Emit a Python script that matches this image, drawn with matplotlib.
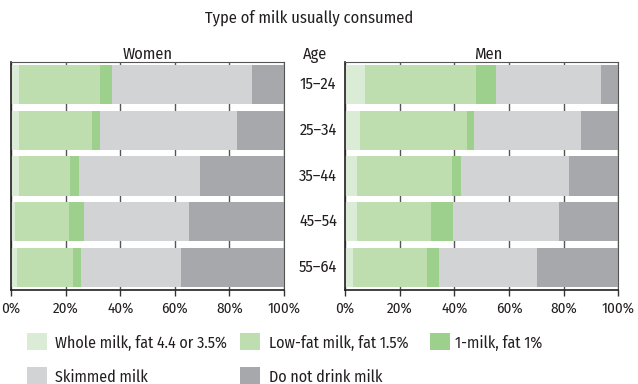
import matplotlib
matplotlib.use("Agg")
import matplotlib.pyplot as plt
from matplotlib import font_manager
from matplotlib.patches import Rectangle
from matplotlib.transforms import blended_transform_factory
import numpy as np

# ---------------- data ----------------
ages = ["15–24", "25–34", "35–44", "45–54", "55–64"]
categories = ["Whole milk, fat 4.4 or 3.5%", "Low-fat milk, fat 1.5%", "1-milk, fat 1%",
              "Skimmed milk", "Do not drink milk"]
women_whole = [2.9, 2.9, 2.9, 1.5, 2.2]
women_lowfat = [29.7, 26.8, 18.7, 19.8, 20.5]
women_onemilk = [4.4, 2.9, 3.3, 5.5, 3.0]
women_skimmed = [51.4, 50.3, 44.4, 38.5, 36.6]
women_none = [11.6, 17.1, 30.7, 34.7, 37.7]

men_whole = [7.3, 5.5, 4.4, 4.4, 2.9]
men_lowfat = [40.6, 39.1, 34.7, 27.1, 27.1]
men_onemilk = [7.3, 2.6, 3.3, 8.0, 4.4]
men_skimmed = [38.5, 39.1, 39.6, 38.8, 35.8]
men_none = [6.3, 13.7, 18.0, 21.7, 29.8]

xticks = [0, 20, 40, 60, 80, 100]
xticklabels = ["0%", "20%", "40%", "60%", "80%", "100%"]
colors = ["#daecd6", "#bedeb0", "#9cd08c", "#d2d3d5", "#a7a8ab"]

# ---------------- fonts ----------------
names = {f.name for f in font_manager.fontManager.ttflist}
FAM = "Open Sans"
for cand in ["Fira Sans Condensed", "Encode Sans Semi Condensed", "Open Sans"]:
    if cand in names:
        FAM = cand
        break
plt.rcParams["font.family"] = [FAM, "DejaVu Sans"]
TXT = "#231f20"

fig = plt.figure(figsize=(6.38, 3.84), dpi=100)
renderer = fig.canvas.get_renderer()

def fit_size(s, target_px):
    t = fig.text(0, 0, s, fontsize=10)
    w = t.get_window_extent(renderer).width
    t.remove()
    return 10 * target_px / w

FS_LEG = fit_size("Whole milk, fat 4.4 or 3.5%", 172)
FS_TITLE = fit_size("Type of milk usually consumed", 208)
FS_TICK = fit_size("100%", 33)
FS_AGE = fit_size("15–24", 37)
FS_HEAD = fit_size("Women", 50)

ax_w = fig.add_axes([11/638, 1-290/384, 273/638, 228/384])
ax_m = fig.add_axes([345/638, 1-290/384, 273.3/638, 228/384])

def draw(ax, series, title, tx):
    y = np.arange(len(ages))
    left = np.zeros(len(ages))
    for vals, c in zip(series, colors):
        ax.barh(y, vals, left=left, height=0.86, color=c, edgecolor="none", zorder=2)
        left += np.array(vals)
    ax.set_xlim(0, 100)
    ax.set_ylim(len(ages) - 0.5, -0.5)
    ax.set_yticks([])
    ax.set_xticks(xticks)
    ax.set_xticklabels(xticklabels, fontsize=FS_TICK, color=TXT)
    ax.tick_params(axis="x", direction="out", length=4, width=1, color="#333333", pad=4)
    ax.grid(axis="x", color="#555555", linewidth=1, zorder=0)
    ax.set_axisbelow(True)
    for s in ["top", "right"]:
        ax.spines[s].set_color("#555555")
        ax.spines[s].set_linewidth(0.8)
    for s in ["left", "bottom"]:
        ax.spines[s].set_color("#231f20")
        ax.spines[s].set_linewidth(1.2)
    ax.text(tx, 1.0 + 3/228, title, transform=ax.transAxes, ha="center", va="baseline",
            fontsize=FS_HEAD, color=TXT)

draw(ax_w, [women_whole, women_lowfat, women_onemilk, women_skimmed, women_none], "Women", 0.5)
draw(ax_m, [men_whole, men_lowfat, men_onemilk, men_skimmed, men_none], "Men", (488-345)/273.3)

# Age labels between panels
tr = blended_transform_factory(ax_w.transAxes, ax_w.transData)
xc = (318 - 11) / 273
for i, a in enumerate(ages):
    ax_w.text(xc, i, a, transform=tr, ha="center", va="center", fontsize=FS_AGE, color=TXT)
ax_w.text((315 - 11) / 273, 1.0 + 3/228, "Age", transform=ax_w.transAxes, ha="center",
          va="baseline", fontsize=FS_HEAD, color=TXT)

fig.text(309/638, 1-22/384, "Type of milk usually consumed", ha="center", va="baseline",
         fontsize=FS_TITLE, color=TXT)

# legend (row-major, 3 columns)
col_patch_x = [27, 240, 430]
col_text_x = [55, 269, 455]
row_top = [333, 367]
for k, (lab, c) in enumerate(zip(categories, colors)):
    r, cidx = divmod(k, 3)
    x0 = col_patch_x[cidx] / 638
    y0 = 1 - (row_top[r] + 17) / 384
    fig.add_artist(Rectangle((x0, y0), 20/638, 17/384, transform=fig.transFigure,
                             facecolor=c, edgecolor="none"))
    fig.text(col_text_x[cidx] / 638, 1 - (row_top[r] + 10) / 384, lab, ha="left",
             va="center", fontsize=FS_LEG, color=TXT)

fig.savefig("out.png", dpi=100)
